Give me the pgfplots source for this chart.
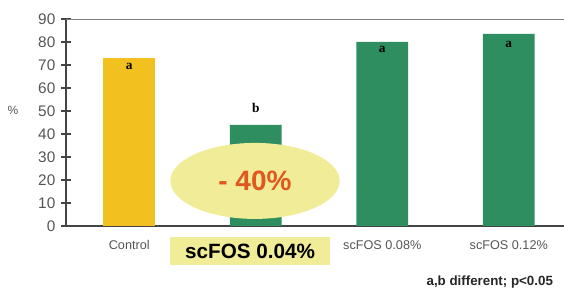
\documentclass[border=0pt]{standalone}
\usepackage{pgfplots}
\pgfplotsset{compat=1.18}
\usetikzlibrary{shapes.geometric}
\usepackage{fontspec}
\setmainfont{Liberation Sans}
\newfontfamily\serifb{Liberation Serif}
\definecolor{baryellow}{HTML}{F2C11F}
\definecolor{bargreen}{HTML}{2E8E60}
\definecolor{lightyel}{HTML}{F1EC98}
\definecolor{redor}{HTML}{E0571F}
\definecolor{axgray}{HTML}{444444}
\definecolor{labgray}{HTML}{555555}
\begin{document}
\begin{tikzpicture}
\begin{axis}[
  x=94.875pt, y=1.725pt,
  xmin=-0.5, xmax=3.4368, ymin=0, ymax=90,
  axis x line=bottom, axis y line=left,
  axis line style={axgray, line width=0.9pt, -},
  clip=false,
  ytick={0,10,...,90},
  ytick style={axgray, line width=0.8pt},
  tick align=center, major tick length=7pt,
  yticklabel style={labgray, font=\fontsize{11.5}{13}\selectfont, xshift=-1pt},
  /pgf/number format/assume math mode=true,
  xtick={0,2,3},
  xticklabels={Control,scFOS 0.08\%,scFOS 0.12\%},
  xticklabel style={labgray, font=\fontsize{9.5}{11}\selectfont, yshift=-4pt},
  xtick style={draw=none},
  extra x ticks={0.5,1.5,2.5},
  extra x tick labels={},
  extra x tick style={tick style={axgray, line width=0.8pt, draw=axgray}, major tick length=7pt},
]
\addplot[ybar, bar width=0.41, fill=baryellow, draw=none] coordinates {(0,73)};
\addplot[ybar, bar width=0.41, fill=bargreen, draw=none] coordinates {(1,44) (2,80) (3,83.5)};
\draw[axgray!70, line width=0.6pt] (axis cs:-0.5,90) -- (axis cs:3.4368,90);
\node[labgray, font=\fontsize{9}{11}\selectfont] at (axis cs:-0.919,50.4) {\%};
\node[fill=lightyel, ellipse, minimum width=127pt, minimum height=57pt, inner sep=0pt] at (axis cs:0.994,19.6) {};
\node[text=redor, font=\fontsize{21}{24}\selectfont\bfseries] at (axis cs:0.994,19.6) {- 40\%};
\node[fill=lightyel, minimum width=120pt, minimum height=21pt, inner sep=0pt, font=\fontsize{15.5}{17}\selectfont\bfseries] at (axis cs:0.955,-10.9) {scFOS 0.04\%};
\node[font=\fontsize{10}{12}\selectfont\bfseries, text=black!85] at (axis cs:2.85,-24.3) {a,b different; p<0.05};
\node[font=\serifb\fontsize{10}{12}\selectfont\bfseries] at (axis cs:0,69.2) {a};
\node[font=\serifb\fontsize{10}{12}\selectfont\bfseries] at (axis cs:1,51.3) {b};
\node[font=\serifb\fontsize{10}{12}\selectfont\bfseries] at (axis cs:2,76.8) {a};
\node[font=\serifb\fontsize{10}{12}\selectfont\bfseries] at (axis cs:3,79.0) {a};
\coordinate (bbA) at (axis cs:-1.0217,98.26);
\coordinate (bbB) at (axis cs:3.4368,-27.83);
\end{axis}
\pgfresetboundingbox
\path[use as bounding box] (bbA) rectangle (bbB);
\end{tikzpicture}
\end{document}
